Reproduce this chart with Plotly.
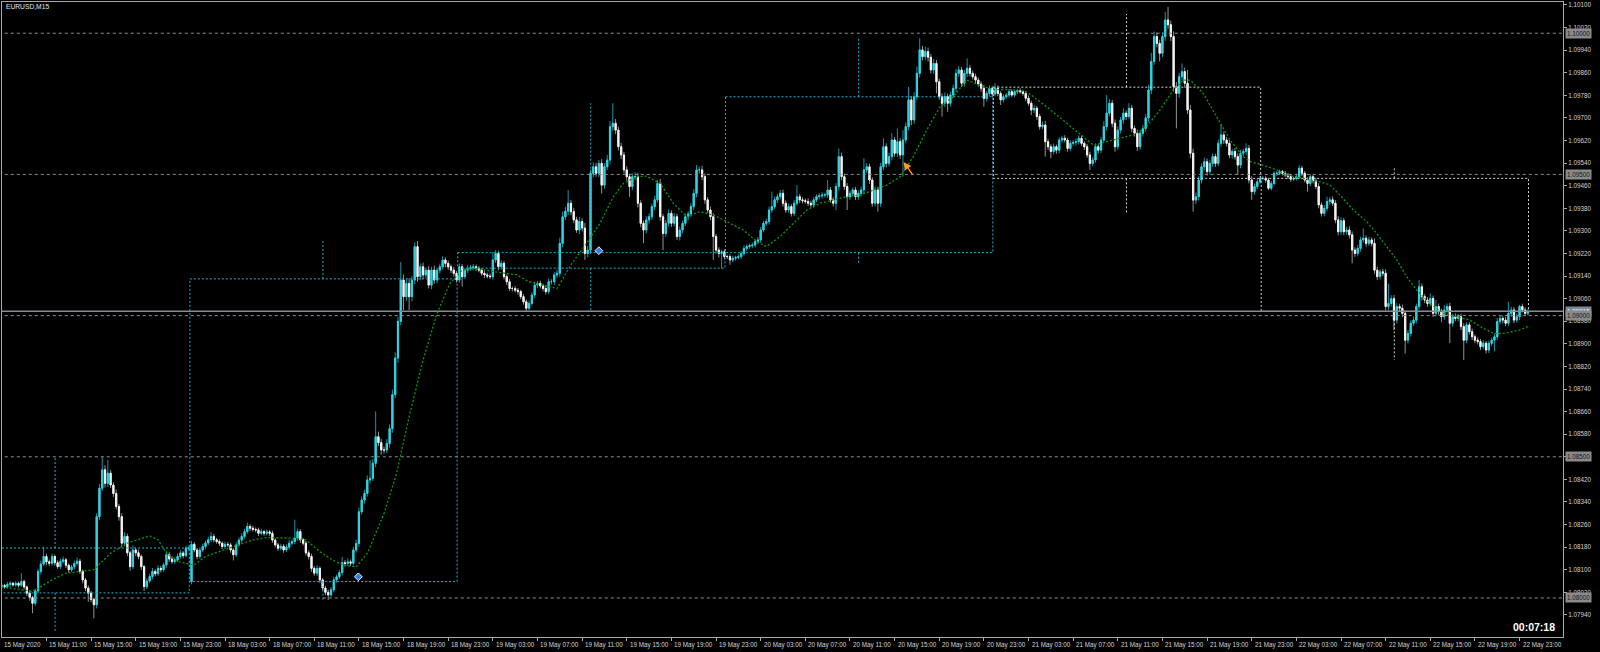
import plotly.graph_objects as go

# ---------------- data (prices stored as pips above 1.08000) ----------------
BASE = 1.08000
PIP = 0.0001

# M15 closes, bar 0 = 15 May 2020 07:00, bar 547 = 22 May 23:45
close_pips = [
 4.4, 4.0, 4.8, 5.2, 4.6, 5.2, 4.5, 5.8, 3.9, 1.7,
 0.2, -1.9, 2.5, 9.4, 12.0, 14.7, 12.8, 12.3, 14.7, 12.5,
 11.1, 12.9, 13.5, 11.6, 10.0, 11.0, 12.2, 13.0, 9.5, 6.4,
 3.5, 1.7, -0.5, -2.4, 28.8, 38.9, 45.4, 40.6, 44.2, 40.0,
 37.0, 32.4, 28.8, 19.4, 21.8, 16.0, 11.1, 17.0, 16.0, 14.7,
 11.1, 4.0, 6.0, 7.6, 9.4, 8.6, 10.5, 10.0, 11.7, 15.3,
 13.8, 12.9, 13.5, 14.7, 15.9, 15.0, 17.6, 17.7, 19.0, 17.0,
 14.7, 17.0, 18.2, 19.5, 20.6, 21.8, 20.6, 20.0, 19.4, 18.2,
 19.0, 18.8, 17.0, 15.3, 18.8, 20.5, 21.8, 23.5, 25.3, 24.7,
 24.3, 24.1, 22.9, 23.5, 22.9, 23.4, 22.9, 20.5, 18.8, 17.6,
 18.3, 17.0, 18.0, 19.4, 20.0, 21.2, 23.5, 20.6, 19.4, 16.0,
 14.7, 10.5, 8.8, 10.5, 6.4, 3.5, 2.0, 1.1, 2.9, 6.4,
 7.5, 9.0, 12.5, 12.2, 12.8, 12.3, 17.0, 19.3, 30.5, 34.7,
 37.0, 41.8, 42.4, 47.7, 57.1, 55.0, 52.4, 52.4, 54.7, 60.0,
 72.0, 85.0, 98.0, 112.6, 106.7, 111.4, 106.7, 112.6, 124.4, 113.8,
 117.3, 114.4, 116.1, 110.8, 116.1, 112.6, 116.1, 117.3, 119.7, 118.5,
 117.3, 116.1, 115.0, 112.6, 117.3, 113.8, 116.1, 116.7, 117.0, 117.3,
 116.7, 116.1, 115.0, 114.4, 114.0, 113.8, 119.7, 122.0, 117.3, 118.5,
 113.8, 112.0, 109.6, 109.6, 109.0, 108.5, 106.7, 104.9, 102.6, 104.3,
 107.3, 110.8, 111.4, 110.5, 109.6, 108.5, 112.0, 112.0, 114.4, 115.0,
 125.6, 135.0, 137.0, 139.8, 136.8, 133.9, 130.3, 133.3, 131.0, 122.0,
 123.2, 150.4, 152.7, 150.4, 153.9, 146.2, 152.7, 155.1, 166.9, 168.1,
 165.7, 159.8, 156.9, 151.6, 149.2, 145.7, 149.2, 149.2, 139.8, 132.7,
 130.3, 133.9, 135.0, 138.6, 141.0, 146.8, 135.0, 129.1, 132.7, 136.2,
 132.7, 135.0, 128.0, 130.3, 132.7, 135.0, 136.0, 138.6, 143.3, 151.6,
 151.6, 149.2, 141.0, 137.4, 135.0, 128.0, 123.2, 122.0, 122.6, 120.9,
 120.9, 119.7, 120.3, 120.6, 120.9, 122.0, 123.8, 124.4, 124.8, 125.0,
 126.2, 126.8, 130.3, 132.7, 133.3, 137.4, 138.6, 141.0, 142.1, 143.3,
 139.8, 137.4, 138.6, 136.2, 139.8, 142.1, 141.0, 140.7, 140.4, 139.8,
 139.2, 141.0, 142.1, 142.4, 142.7, 142.7, 144.5, 141.0, 139.8, 145.7,
 156.3, 149.2, 145.7, 142.1, 143.3, 144.5, 142.1, 143.3, 144.5, 151.6,
 152.7, 148.0, 139.8, 144.5, 139.8, 152.7, 159.8, 153.9, 156.3, 162.2,
 157.5, 161.6, 156.9, 162.2, 166.9, 176.4, 169.3, 177.5, 185.8, 194.1,
 191.7, 193.5, 191.5, 187.0, 189.3, 182.8, 177.5, 175.2, 177.6, 175.2,
 178.1, 180.5, 185.8, 187.0, 182.3, 185.8, 187.6, 185.8, 184.6, 183.4,
 182.0, 180.5, 176.9, 178.7, 180.5, 178.5, 180.5, 178.7, 176.4, 177.5,
 178.1, 179.3, 178.1, 179.3, 179.6, 179.3, 178.7, 177.0, 175.2, 172.8,
 173.4, 170.5, 166.9, 167.5, 161.6, 159.8, 158.1, 159.8, 158.6, 162.2,
 162.8, 162.2, 159.2, 161.0, 161.3, 161.6, 162.8, 161.0, 159.8, 156.9,
 153.9, 155.1, 159.8, 158.6, 162.2, 166.9, 171.7, 175.2, 168.1, 159.8,
 165.7, 169.3, 171.7, 170.5, 173.4, 166.3, 164.6, 159.8, 164.6, 166.3,
 170.0, 179.9, 190.0, 198.8, 196.4, 192.9, 198.8, 204.7, 203.0, 198.8,
 181.1, 178.7, 184.6, 186.4, 182.3, 172.8, 157.5, 140.9, 142.1, 148.0,
 152.7, 154.5, 151.0, 153.9, 156.3, 153.9, 161.0, 164.0, 162.2, 161.0,
 156.9, 158.1, 156.3, 153.3, 157.5, 158.1, 159.2, 148.0, 143.9, 145.7,
 147.4, 148.6, 148.6, 148.0, 145.1, 146.8, 150.4, 150.4, 151.0, 150.4,
 149.8, 149.2, 148.3, 148.6, 149.2, 152.2, 150.4, 148.0, 146.8, 149.2,
 147.8, 145.7, 139.2, 136.2, 138.0, 140.4, 141.0, 139.8, 133.9, 129.7,
 133.6, 129.7, 130.3, 128.6, 123.2, 122.0, 123.8, 126.8, 127.4, 125.6,
 126.8, 125.6, 116.1, 113.8, 115.5, 115.0, 103.2, 104.3, 106.0, 98.4,
 103.2, 102.6, 100.8, 91.3, 93.7, 97.3, 98.4, 103.2, 110.2, 106.7,
 105.5, 104.3, 106.1, 100.8, 103.2, 101.4, 99.6, 102.0, 103.2, 97.3,
 99.6, 99.0, 99.6, 96.1, 91.3, 96.7, 94.3, 92.5, 91.3, 90.8,
 89.0, 90.2, 87.8, 90.2, 91.3, 92.5, 97.9, 99.0, 98.4, 97.3,
 100.8, 102.0, 98.4, 99.6, 103.2, 102.0, 100.8, 101.5]

# upper wick above the body, pips
wick_up_pips = [
 0.8, 0.6, 0.9, 0.7, 0.5, 0.8, 0.6, 3.0, 0.7, 0.5,
 0.9, 0.6, 0.8, 1.0, 1.2, 3.5, 1.0, 0.8, 1.1, 0.7,
 0.9, 1.0, 1.2, 0.7, 0.6, 0.8, 1.0, 1.3, 0.9, 0.6,
 0.7, 0.9, 0.8, 0.6, 1.2, 1.5, 4.6, 1.6, 4.8, 1.2,
 1.0, 1.4, 0.9, 1.2, 1.5, 1.0, 0.8, 1.6, 0.9, 1.1,
 0.7, 0.6, 0.9, 1.0, 1.2, 0.8, 1.1, 0.9, 0.8, 1.3,
 0.9, 1.0, 0.8, 1.1, 1.0, 0.7, 0.9, 1.0, 1.2, 0.8,
 0.7, 0.9, 1.0, 0.8, 1.1, 1.5, 0.9, 0.7, 0.8, 0.6,
 0.9, 0.8, 0.7, 0.6, 1.0, 0.9, 1.1, 1.0, 1.4, 0.8,
 0.9, 0.7, 0.8, 1.0, 0.6, 0.8, 0.7, 0.9, 0.6, 0.8,
 0.9, 0.7, 1.0, 1.2, 0.8, 6.5, 1.1, 0.9, 0.7, 0.8,
 0.9, 1.0, 0.8, 1.1, 0.7, 0.6, 0.8, 0.9, 1.0, 1.1,
 0.8, 1.0, 2.0, 0.9, 1.2, 0.8, 1.1, 1.3, 1.5, 1.2,
 1.4, 1.6, 6.4, 1.5, 9.0, 1.8, 1.4, 1.2, 1.6, 1.5,
 1.8, 2.0, 1.6, 6.4, 2.0, 1.5, 1.8, 1.4, 1.6, 2.0,
 1.2, 1.5, 1.0, 1.4, 1.2, 1.6, 0.9, 1.1, 1.3, 0.9,
 1.0, 0.8, 1.1, 0.9, 1.2, 1.0, 0.8, 1.1, 0.9, 1.0,
 0.8, 0.9, 0.7, 1.0, 0.8, 0.9, 2.9, 1.2, 1.0, 1.1,
 0.9, 0.8, 1.0, 0.7, 0.9, 0.8, 0.7, 0.9, 0.8, 1.0,
 1.1, 1.2, 0.9, 1.0, 0.8, 1.1, 1.2, 0.9, 1.0, 1.3,
 2.0, 1.8, 1.5, 4.7, 1.2, 1.4, 1.1, 1.6, 1.2, 1.8,
 1.5, 1.2, 1.6, 1.4, 1.2, 1.5, 1.3, 1.8, 2.0, 7.1,
 1.5, 1.2, 1.4, 1.1, 1.3, 1.0, 1.2, 1.6, 1.4, 1.1,
 1.0, 1.3, 1.2, 1.1, 1.4, 1.2, 1.6, 1.0, 1.2, 1.4,
 1.1, 1.3, 1.0, 1.2, 0.9, 1.1, 1.0, 1.3, 1.5, 1.7,
 1.2, 1.4, 1.1, 1.0, 1.2, 1.3, 0.9, 1.0, 0.8, 0.9,
 0.7, 0.8, 0.9, 0.6, 0.8, 0.9, 1.0, 0.8, 0.7, 0.9,
 0.8, 1.0, 1.1, 0.9, 1.0, 1.2, 5.3, 1.1, 1.0, 1.2,
 1.3, 1.0, 1.1, 0.9, 1.2, 4.1, 1.0, 0.9, 0.8, 1.1,
 0.9, 1.0, 0.8, 0.9, 1.0, 0.8, 3.5, 1.1, 0.9, 1.2,
 2.9, 1.4, 1.1, 1.2, 1.0, 0.9, 1.1, 1.0, 1.2, 4.1,
 1.3, 1.1, 1.0, 1.2, 1.1, 1.4, 3.0, 1.2, 1.3, 2.4,
 1.1, 4.7, 1.2, 3.5, 1.5, 4.6, 1.3, 1.6, 2.4, 4.1,
 1.5, 1.8, 1.4, 1.2, 1.6, 1.3, 1.1, 1.2, 1.4, 1.0,
 1.2, 1.3, 1.6, 1.4, 1.1, 1.3, 3.5, 1.2, 1.0, 1.1,
 0.9, 1.0, 1.2, 0.8, 1.1, 0.9, 1.8, 1.0, 0.8, 0.9,
 0.7, 0.9, 0.8, 0.7, 0.8, 0.9, 0.7, 0.8, 1.0, 0.9,
 1.1, 0.9, 1.0, 1.2, 1.4, 1.0, 0.9, 1.1, 0.8, 1.0,
 0.9, 1.1, 0.8, 1.0, 0.9, 1.2, 1.0, 0.9, 0.8, 1.0,
 1.1, 1.0, 1.2, 0.9, 1.1, 2.0, 6.4, 1.5, 1.2, 1.4,
 1.3, 1.1, 1.7, 1.0, 1.8, 1.2, 1.0, 1.3, 1.1, 1.2,
 1.4, 1.8, 3.0, 1.8, 1.5, 1.3, 1.6, 2.9, 4.6, 1.5,
 1.8, 1.6, 1.4, 2.9, 1.5, 4.7, 1.8, 1.6, 1.5, 1.3,
 1.2, 1.4, 1.1, 1.3, 1.2, 1.0, 1.4, 3.5, 1.2, 1.1,
 1.3, 1.0, 1.2, 1.1, 1.3, 1.0, 1.8, 1.2, 1.4, 1.1,
 1.0, 0.8, 0.9, 0.7, 0.8, 0.9, 0.6, 0.8, 0.7, 0.6,
 0.8, 0.7, 0.9, 0.6, 0.8, 1.1, 0.9, 0.8, 1.0, 0.9,
 0.8, 1.0, 1.2, 0.9, 1.1, 1.7, 1.0, 1.2, 1.1, 1.3,
 1.2, 1.0, 1.1, 1.3, 1.2, 1.0, 1.2, 1.1, 3.5, 1.0,
 1.1, 0.9, 1.8, 1.2, 1.0, 1.1, 1.4, 7.0, 1.2, 1.3,
 1.2, 1.0, 1.3, 1.1, 1.2, 1.0, 1.3, 1.1, 2.4, 1.2,
 1.0, 1.1, 1.8, 1.0, 2.3, 1.1, 1.0, 1.8, 1.1, 1.3,
 1.0, 1.2, 0.9, 1.1, 1.2, 1.0, 0.9, 1.1, 0.8, 1.0,
 0.9, 1.1, 0.8, 1.0, 0.9, 1.0, 1.2, 1.1, 1.0, 1.2,
 4.1, 1.2, 1.0, 1.1, 0.6, 1.0, 0.9, 0.8]

# lower wick below the body, pips
wick_dn_pips = [
 0.6, 0.8, 0.7, 0.9, 0.6, 0.7, 0.8, 0.6, 0.9, 1.0,
 1.2, 3.5, 0.9, 0.8, 1.0, 0.7, 1.1, 0.9, 0.8, 1.0,
 0.8, 0.9, 0.7, 1.0, 1.1, 0.8, 0.9, 0.7, 1.0, 1.2,
 1.1, 3.0, 1.0, 4.8, 1.3, 1.2, 1.0, 1.5, 1.3, 1.1,
 1.2, 1.0, 1.4, 1.3, 1.1, 1.2, 1.5, 0.9, 1.1, 1.0,
 1.2, 1.5, 0.9, 0.8, 1.0, 0.9, 0.8, 1.0, 0.7, 0.9,
 1.0, 0.8, 0.9, 0.7, 0.8, 1.0, 0.7, 0.9, 1.0, 0.8,
 1.0, 0.8, 0.7, 0.9, 0.8, 0.7, 0.9, 0.8, 1.0, 0.9,
 0.8, 0.9, 1.0, 2.0, 0.8, 0.7, 0.9, 0.8, 0.7, 1.0,
 0.8, 0.9, 1.0, 0.7, 0.9, 0.8, 0.9, 1.0, 0.8, 0.9,
 0.8, 1.0, 0.7, 0.9, 0.8, 1.0, 0.9, 1.1, 0.8, 1.0,
 1.1, 1.2, 0.9, 1.0, 1.1, 0.9, 1.0, 1.8, 0.8, 0.9,
 1.0, 0.8, 0.9, 1.1, 0.9, 1.0, 0.8, 0.9, 1.2, 1.0,
 1.2, 1.1, 1.3, 1.0, 1.4, 1.2, 1.6, 1.3, 1.1, 1.4,
 1.5, 1.3, 1.6, 1.4, 4.7, 1.5, 4.7, 1.6, 1.4, 1.8,
 1.3, 1.5, 1.2, 1.2, 1.4, 1.3, 1.1, 1.2, 1.0, 1.3,
 1.1, 1.0, 1.2, 0.9, 1.0, 3.5, 0.9, 1.0, 0.8, 0.9,
 1.0, 0.8, 0.9, 1.0, 0.8, 0.9, 1.1, 1.0, 1.3, 1.1,
 1.0, 1.2, 0.9, 1.0, 0.8, 1.1, 0.9, 1.0, 1.2, 0.9,
 0.8, 1.0, 1.1, 0.9, 1.0, 1.1, 0.9, 1.0, 1.2, 1.1,
 1.3, 1.4, 1.2, 1.5, 1.3, 1.2, 1.0, 1.4, 1.2, 2.3,
 1.4, 1.3, 1.5, 1.2, 1.4, 3.0, 1.3, 1.2, 1.5, 1.6,
 1.4, 1.3, 1.5, 1.2, 1.4, 3.6, 1.3, 1.2, 1.5, 1.4,
 4.7, 1.2, 1.3, 1.1, 1.2, 1.0, 1.4, 5.9, 1.3, 1.2,
 1.3, 1.1, 1.2, 1.4, 1.2, 1.1, 1.3, 1.0, 1.2, 1.4,
 1.3, 1.2, 1.4, 1.1, 1.3, 8.3, 1.2, 1.4, 5.3, 1.0,
 0.9, 1.7, 0.8, 0.9, 0.7, 0.8, 0.9, 0.8, 0.7, 0.9,
 0.8, 0.9, 1.0, 0.8, 0.9, 1.1, 1.0, 0.9, 1.1, 1.0,
 1.2, 1.0, 0.9, 1.1, 1.0, 0.9, 1.1, 1.0, 0.8, 1.0,
 0.9, 1.0, 0.8, 0.9, 1.0, 0.9, 1.1, 1.0, 1.2, 2.4,
 1.4, 1.3, 1.2, 4.7, 1.1, 1.0, 1.2, 1.1, 1.0, 1.3,
 1.2, 1.4, 1.2, 1.1, 3.0, 1.3, 1.2, 1.4, 1.1, 1.3,
 1.2, 1.3, 1.4, 7.7, 1.2, 1.3, 1.8, 1.4, 1.2, 1.5,
 1.4, 1.3, 1.5, 1.2, 1.4, 4.1, 1.1, 4.7, 1.3, 3.0,
 1.2, 1.1, 1.3, 1.2, 1.4, 1.1, 1.3, 1.2, 1.0, 1.1,
 1.0, 1.2, 2.9, 1.0, 0.9, 1.1, 0.9, 1.0, 1.8, 0.9,
 0.8, 0.9, 0.7, 0.8, 0.9, 0.7, 0.8, 1.0, 0.9, 1.8,
 1.0, 1.2, 1.1, 0.9, 5.3, 1.2, 2.4, 1.0, 1.3, 1.1,
 1.0, 0.9, 1.2, 1.0, 0.9, 1.1, 1.0, 0.9, 1.2, 1.0,
 2.3, 1.1, 1.0, 1.2, 1.1, 1.0, 1.3, 1.2, 1.4, 1.8,
 1.2, 1.1, 1.3, 1.2, 1.0, 1.4, 1.2, 1.5, 1.1, 1.2,
 1.3, 1.4, 1.5, 1.2, 1.4, 2.9, 1.3, 1.5, 1.4, 1.6,
 1.8, 12.4, 1.5, 1.3, 1.6, 1.4, 1.8, 4.1, 1.5, 1.3,
 1.2, 1.3, 1.4, 1.1, 1.2, 1.3, 1.0, 1.2, 1.4, 1.1,
 1.2, 1.3, 1.1, 3.5, 1.2, 1.1, 1.3, 1.2, 2.9, 1.1,
 0.9, 0.8, 0.7, 0.9, 0.6, 0.8, 0.7, 0.9, 0.6, 0.8,
 0.7, 0.8, 0.9, 0.7, 0.8, 0.9, 1.0, 0.8, 2.9, 0.9,
 1.0, 0.9, 1.2, 1.1, 1.0, 0.9, 1.1, 1.0, 1.2, 1.3,
 1.1, 1.2, 1.0, 1.3, 4.7, 1.2, 1.0, 1.1, 1.0, 1.2,
 1.0, 1.1, 1.3, 1.2, 1.1, 1.0, 1.4, 1.2, 1.1, 3.5,
 1.2, 1.1, 1.3, 4.7, 1.2, 1.1, 1.0, 1.2, 1.1, 1.3,
 1.1, 1.2, 1.0, 1.3, 1.1, 1.2, 1.8, 1.1, 1.0, 7.1,
 1.2, 1.0, 1.1, 1.2, 7.0, 1.1, 1.0, 1.2, 1.1, 1.0,
 1.2, 1.0, 1.2, 1.1, 1.0, 4.0, 1.1, 1.0, 1.2, 1.1,
 1.0, 1.2, 1.1, 1.0, 1.2, 0.9, 1.0, 0.8]

# opens that differ from the previous close (chart start, weekend gap)
gap_open_pips = {0: 4.0, 68: 5.8}

# green moving-average line read at points (bar index, pips)
ma_idx = [0, 11, 18, 23, 33, 39, 45, 50, 53, 56, 59, 63, 69, 73, 83, 90, 95, 104, 109, 114,
          118, 122, 127, 131, 137, 141.5, 146, 151, 156, 160.6, 165, 170, 177, 184.5, 189, 194, 199, 204, 209.6, 214.4,
          219.2, 222.8, 227.5, 231, 236, 240.7, 245.5, 250.2, 255, 259.8, 265.8, 270.6, 274, 279, 283.7, 288.5, 293.3, 298, 302.8, 307.6,
          312.4, 317.2, 322, 326.7, 331.5, 336.3, 341, 345.8, 350.6, 355.4, 360, 367.3, 374.5, 381.7, 386.4, 391.2, 396, 400.8, 405.6, 410.3,
          415.1, 419.9, 423.5, 426, 430.6, 435.4, 440.2, 445, 448, 452, 457, 460.5, 466.5, 472.5, 476, 479.6, 484.4, 489.2, 492.8, 496.4,
          500, 503.5, 507.1, 511.9, 516.7, 521.4, 526.2, 531, 534.6, 538.2, 541.8, 544.1, 547]
ma_pips = [4.0, 2.3, 6.4, 8.8, 10.0, 15.9, 19.4, 21.2, 22.0, 20.6, 15.9, 12.9, 11.7, 14.7, 18.2, 20.6, 21.4, 21.2, 20.6, 16.4,
           13.8, 11.7, 11.0, 15.8, 29.9, 44.1, 64.2, 84.3, 100.8, 111.4, 116.1, 116.7, 115.5, 114.4, 112.0, 110.8, 109.6, 118.0, 125.6, 132.7,
           142.1, 146.8, 149.2, 149.4, 146.8, 139.8, 135.0, 136.8, 135.6, 133.3, 130.3, 126.2, 124.4, 128.0, 132.7, 137.4, 139.8, 141.0, 142.1, 142.7,
           144.5, 146.2, 149.2, 156.3, 165.7, 174.0, 177.5, 183.4, 181.5, 180.0, 180.1, 179.3, 174.0, 168.1, 164.0, 160.4, 161.6, 162.8, 164.0, 166.9,
           172.8, 179.9, 183.4, 183.4, 178.7, 170.5, 162.2, 156.3, 154.3, 153.3, 151.6, 149.8, 148.6, 147.4, 146.3, 142.7, 137.4, 133.3, 129.1, 124.4,
           119.7, 113.8, 109.1, 104.3, 100.8, 99.6, 98.4, 95.5, 93.7, 93.7, 94.3, 94.9, 96.1]

# daily candles overlay (bar index of first/last M15 bar of each day, OHLC pips)
day_first = [-28, 68, 164, 260, 356, 452]
day_last = [67, 163, 259, 355, 451, 547]
day_open = [1.8, 5.8, 116.8, 122.3, 180.9, 148.6]
day_close = [17.7, 113.0, 122.3, 177.5, 148.6, 101.5]
day_high = [50.1, 126.4, 175.2, 198.8, 206.8, 152.2]
day_low = [-12.0, -0.7, 101.4, 118.5, 136.2, 84.3]

# trade marks
buy_idx = [127.8, 214.0]
buy_pips = [7.5, 123.0]
arrow_idx = 323.2
arrow_pips = 154.4

levels = [1.10000, 1.09500, 1.09000, 1.08500, 1.08000]
level_text = ["1.10000", "1.09500", "1.09000", "1.08500", "1.08000"]
bid_price = 1.09015
bid_text = "1.09015"

y_ticks = [1.10100, 1.10020, 1.09940, 1.09860, 1.09780, 1.09700, 1.09620, 1.09540, 1.09460, 1.09380,
           1.09300, 1.09220, 1.09140, 1.09060, 1.08980, 1.08900, 1.08820, 1.08740, 1.08660, 1.08580,
           1.08500, 1.08420, 1.08340, 1.08260, 1.08180, 1.08100, 1.08020, 1.07940]
y_tick_text = ["1.10100", "1.10020", "1.09940", "1.09860", "1.09780", "1.09700", "1.09620", "1.09540", "1.09460", "1.09380",
               "1.09300", "1.09220", "1.09140", "1.09060", "1.08980", "1.08900", "1.08820", "1.08740", "1.08660", "1.08580",
               "1.08500", "1.08420", "1.08340", "1.08260", "1.08180", "1.08100", "1.08020", "1.07940"]

x_tick_idx = [16, 32, 48, 64, 80, 96, 112, 128, 144, 160, 176, 192, 208, 224, 240, 256, 272, 288,
              304, 320, 336, 352, 368, 384, 400, 416, 432, 448, 464, 480, 496, 512, 528, 544]
x_tick_text = ["15 May 11:00", "15 May 15:00", "15 May 19:00", "15 May 23:00",
               "18 May 03:00", "18 May 07:00", "18 May 11:00", "18 May 15:00", "18 May 19:00", "18 May 23:00",
               "19 May 03:00", "19 May 07:00", "19 May 11:00", "19 May 15:00", "19 May 19:00", "19 May 23:00",
               "20 May 03:00", "20 May 07:00", "20 May 11:00", "20 May 15:00", "20 May 19:00", "20 May 23:00",
               "21 May 03:00", "21 May 07:00", "21 May 11:00", "21 May 15:00", "21 May 19:00", "21 May 23:00",
               "22 May 03:00", "22 May 07:00", "22 May 11:00", "22 May 15:00", "22 May 19:00", "22 May 23:00"]
first_label = "15 May 2020"
title_text = "EURUSD,M15"
timer_text = "00:07:18"

# ---------------- styling ----------------
FONT = "Liberation Sans, Arial, sans-serif"
TXT = "#d2d2d2"
FRAME = "#a8a8a8"
BULL = "#31d3e1"
BULL_WICK = "#1696a4"
BEAR = "#f4f4f4"
BEAR_WICK = "#939393"
CYAN_DOT = "#1fb2ce"
WHITE_DOT = "#d6d6d6"
LEVEL_GRAY = "#8e8e8e"
MA_GREEN = "#0c9a0c"

X0, X1 = 0.07, 559.57
Y0, Y1 = 1.078618, 1.101106

def px(v):
    return BASE + v * PIP

n = min(len(close_pips), len(wick_up_pips), len(wick_dn_pips))
idx = list(range(n))
o_p, h_p, l_p, c_p, bt_p, bb_p = [], [], [], [], [], []
for i in range(n):
    c = close_pips[i]
    o = gap_open_pips.get(i, close_pips[i - 1] if i > 0 else c)
    top, bot = max(o, c), min(o, c)
    o_p.append(px(o)); c_p.append(px(c))
    h_p.append(px(top + wick_up_pips[i])); l_p.append(px(bot - wick_dn_pips[i]))
    bt_p.append(px(top)); bb_p.append(px(bot))

fig = go.Figure()

# round-number levels
lx, ly = [], []
for lv in levels:
    lx += [-100, 700, None]; ly += [lv, lv, None]
fig.add_trace(go.Scatter(x=lx, y=ly, mode="lines", line=dict(color=LEVEL_GRAY, width=1, dash="3px,3px"),
                         hoverinfo="skip", showlegend=False))

# daily candle boxes
bx = {True: [], False: []}; by = {True: [], False: []}
for k in range(len(day_first)):
    o, c, h, l = day_open[k], day_close[k], day_high[k], day_low[k]
    x0 = day_first[k] - 0.6; x1 = day_last[k] + 0.2
    xm = (day_first[k] + day_last[k]) / 2 - 0.4
    top, bot = max(o, c), min(o, c)
    bull = c >= o
    bx[bull] += [x0, x1, x1, x0, x0, None, xm, xm, None, xm, xm, None]
    by[bull] += [px(top), px(top), px(bot), px(bot), px(top), None, px(top), px(h), None, px(bot), px(l), None]
for bull, col in ((True, CYAN_DOT), (False, WHITE_DOT)):
    fig.add_trace(go.Scatter(x=bx[bull], y=by[bull], mode="lines", line=dict(color=col, width=1, dash="2px,2px"),
                             hoverinfo="skip", showlegend=False))

# bid line
fig.add_trace(go.Scatter(x=[-100, 700], y=[bid_price, bid_price], mode="lines",
                         line=dict(color="#868c94", width=1.5), hoverinfo="skip", showlegend=False))

# candles: wicks then bodies
fig.add_trace(go.Candlestick(x=idx, open=o_p, high=h_p, low=l_p, close=c_p, whiskerwidth=0,
                             increasing=dict(line=dict(color=BULL_WICK, width=1), fillcolor=BULL_WICK),
                             decreasing=dict(line=dict(color=BEAR_WICK, width=1), fillcolor=BEAR_WICK),
                             hoverinfo="skip", showlegend=False))
fig.add_trace(go.Candlestick(x=idx, open=o_p, high=bt_p, low=bb_p, close=c_p, whiskerwidth=0,
                             increasing=dict(line=dict(color=BULL, width=1), fillcolor=BULL),
                             decreasing=dict(line=dict(color=BEAR, width=1), fillcolor=BEAR),
                             hoverinfo="skip", showlegend=False))

# moving average
fig.add_trace(go.Scatter(x=ma_idx, y=[px(v) for v in ma_pips], mode="lines",
                         line=dict(color=MA_GREEN, width=1.3, dash="2px,2px"),
                         hoverinfo="skip", showlegend=False))

# trade marks
fig.add_trace(go.Scatter(x=buy_idx, y=[px(v) for v in buy_pips], mode="markers",
                         marker=dict(symbol="diamond", size=6, color="#2f7fe6", line=dict(color="#e8f0ff", width=1)),
                         hoverinfo="skip", showlegend=False))

ann = []
ann.append(dict(x=arrow_idx, y=px(arrow_pips), xref="x", yref="y", ax=10, ay=14, showarrow=True,
                arrowhead=2, arrowsize=1.2, arrowwidth=1.3, arrowcolor="#ff9a1a", text=""))

# x labels (left aligned at tick, as MT4 draws them)
PLOT_L, PLOT_R, PLOT_T, PLOT_B = 2, 1563, 2, 637
W = PLOT_R - PLOT_L; H = PLOT_B - PLOT_T
lab_y = (PLOT_B - 645) / H
ann.append(dict(x=(2 - PLOT_L) / W, y=lab_y, xref="paper", yref="paper", text=first_label, showarrow=False,
                xanchor="left", yanchor="middle", font=dict(family=FONT, size=6.3, color=TXT)))
for xi, tt in zip(x_tick_idx, x_tick_text):
    ann.append(dict(x=xi, y=lab_y, xref="x", yref="paper", text=tt, showarrow=False, xshift=1,
                    xanchor="left", yanchor="middle", font=dict(family=FONT, size=6.3, color=TXT)))

# price-scale labels of lines
lab_x = (1564.5 - PLOT_L) / W
ann.append(dict(x=lab_x, y=bid_price, xref="paper", yref="y", text=bid_text, showarrow=False,
                xanchor="left", yanchor="middle", bgcolor="#7b8898", borderpad=1,
                font=dict(family=FONT, size=6.3, color="#ffffff")))
for lv, tt in zip(levels, level_text):
    ann.append(dict(x=lab_x, y=lv, xref="paper", yref="y", text=tt, showarrow=False,
                    xanchor="left", yanchor="middle", bgcolor="#8a8a8a", borderpad=1,
                    font=dict(family=FONT, size=6.3, color="#161616")))

ann.append(dict(x=(4 - PLOT_L) / W, y=(PLOT_B - 6) / H, xref="paper", yref="paper", text=title_text,
                showarrow=False, xanchor="left", yanchor="middle", font=dict(family=FONT, size=6.7, color="#e6e6e6")))
ann.append(dict(x=(1557 - PLOT_L) / W, y=(PLOT_B - 627) / H, xref="paper", yref="paper", text="<b>" + timer_text + "</b>",
                showarrow=False, xanchor="right", yanchor="middle", font=dict(family=FONT, size=10.5, color="#ffffff")))

fig.update_layout(
    width=1600, height=652,
    margin=dict(l=PLOT_L, r=1600 - PLOT_R, t=PLOT_T, b=652 - PLOT_B),
    paper_bgcolor="#000000", plot_bgcolor="#000000",
    showlegend=False, hovermode=False,
    boxgap=0.35, boxgroupgap=0.35,
    annotations=ann,
    xaxis=dict(range=[X0, X1], autorange=False, rangeslider=dict(visible=False), showgrid=False, zeroline=False,
               showline=True, mirror=True, linecolor=FRAME, linewidth=1,
               tickmode="array", tickvals=x_tick_idx, ticks="outside", ticklen=3, tickcolor=FRAME,
               showticklabels=False),
    yaxis=dict(range=[Y0, Y1], autorange=False, side="right", showgrid=False, zeroline=False,
               showline=True, mirror=True, linecolor=FRAME, linewidth=1,
               tickmode="array", tickvals=y_ticks, ticktext=y_tick_text,
               ticks="outside", ticklen=3, tickcolor=FRAME,
               tickfont=dict(family=FONT, size=6.3, color=TXT)),
)

fig.write_html("out.html", config={"displayModeBar": False, "staticPlot": True},
               post_script="document.body.style.margin='0';document.body.style.background='#000';document.body.style.overflow='hidden';")
